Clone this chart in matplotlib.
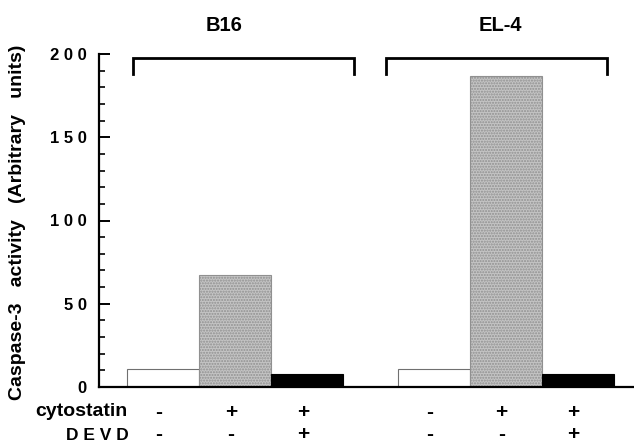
import matplotlib
matplotlib.use("Agg")
import matplotlib.pyplot as plt
from matplotlib.ticker import MultipleLocator, FuncFormatter
import numpy as np

groups = ["B16", "EL-4"]
conditions = ["control", "cytostatin", "cytostatin+DEVD"]
b16_values = [11, 67, 8]
el4_values = [11, 187, 8]
cytostatin_signs = ["-", "+", "+"]
devd_signs = ["-", "-", "+"]
ylabel = "Caspase-3   activity   (Arbitrary   units)"

plt.rcParams['font.family'] = ['Liberation Sans', 'DejaVu Sans']
plt.rcParams['font.weight'] = 'bold'
plt.rcParams['hatch.color'] = '#404040'
plt.rcParams['hatch.linewidth'] = 1.0

W, H = 634, 447
fig = plt.figure(figsize=(W / 100, H / 100), dpi=100)
ax_left, ax_right, ax_bottom, ax_top = 99, 634, 387, 54
ax = fig.add_axes([ax_left / W, (H - ax_bottom) / H, (ax_right - ax_left) / W, (ax_bottom - ax_top) / H])

group_offset = 3.76
x_b16 = np.arange(3)
x_el4 = np.arange(3) + group_offset
facecolors = ['white', '#c4c4c4', 'black']
edgecolors = ['#707070', '#909090', 'black']
hatches = [None, '......', None]

for xs, vals in [(x_b16, b16_values), (x_el4, el4_values)]:
    for i in range(3):
        ax.bar(xs[i], vals[i], width=1.0, color=facecolors[i], edgecolor=edgecolors[i],
               hatch=hatches[i], linewidth=0.8, zorder=2)

ax.set_xlim(-0.89, 6.54)
ax.set_ylim(0, 200)
ax.spines['top'].set_visible(False)
ax.spines['right'].set_visible(False)
ax.spines['left'].set_linewidth(1.6)
ax.spines['bottom'].set_linewidth(1.6)
ax.set_xticks([])
ax.yaxis.set_major_locator(MultipleLocator(50))
ax.yaxis.set_minor_locator(MultipleLocator(10))
ax.yaxis.set_major_formatter(FuncFormatter(lambda v, p: ' '.join(str(int(v)))))
ax.tick_params(axis='y', which='major', direction='in', length=8, width=1.4, labelsize=12, pad=9)
ax.tick_params(axis='y', which='minor', direction='in', length=4, width=1.2)
for lab in ax.get_yticklabels():
    lab.set_fontweight('bold')

fig.text(18 / W, 1 - 222 / H, ylabel, rotation=90, ha='center', va='center',
         fontsize=14, fontweight='bold')

# Group brackets and titles
def bracket(x0, x1):
    ax.plot([x0, x0, x1, x1], [188, 197.5, 197.5, 188], color='black', lw=2.0,
            clip_on=False, solid_joinstyle='miter', zorder=3)

bracket(-0.42, 2.65)
bracket(3.10, 6.17)
title_y = 1.0 + (54 - 26) / (387 - 54)
ax.text(0.85, title_y, groups[0], transform=ax.get_xaxis_transform(),
        ha='center', va='center', fontsize=14.5, fontweight='bold')
ax.text(4.69, title_y, groups[1], transform=ax.get_xaxis_transform(),
        ha='center', va='center', fontsize=14.5, fontweight='bold')

# Condition rows below axis
row1_y = -(412 - 387) / (387 - 54)
row2_y = -(435 - 387) / (387 - 54)
fig.text(81 / W, 1 - 412 / H, "cytostatin", ha='center', va='center', fontsize=14, fontweight='bold')
fig.text(97 / W, 1 - 436 / H, "D E V D", ha='center', va='center', fontsize=12.5, fontweight='bold')
for xs in (x_b16, x_el4):
    for i in range(3):
        ax.text(xs[i] - 0.06, row1_y, cytostatin_signs[i], transform=ax.get_xaxis_transform(),
                ha='center', va='center', fontsize=15, fontweight='bold', clip_on=False)
        ax.text(xs[i] - 0.06, row2_y, devd_signs[i], transform=ax.get_xaxis_transform(),
                ha='center', va='center', fontsize=15, fontweight='bold', clip_on=False)

fig.savefig("out.png", dpi=100)
